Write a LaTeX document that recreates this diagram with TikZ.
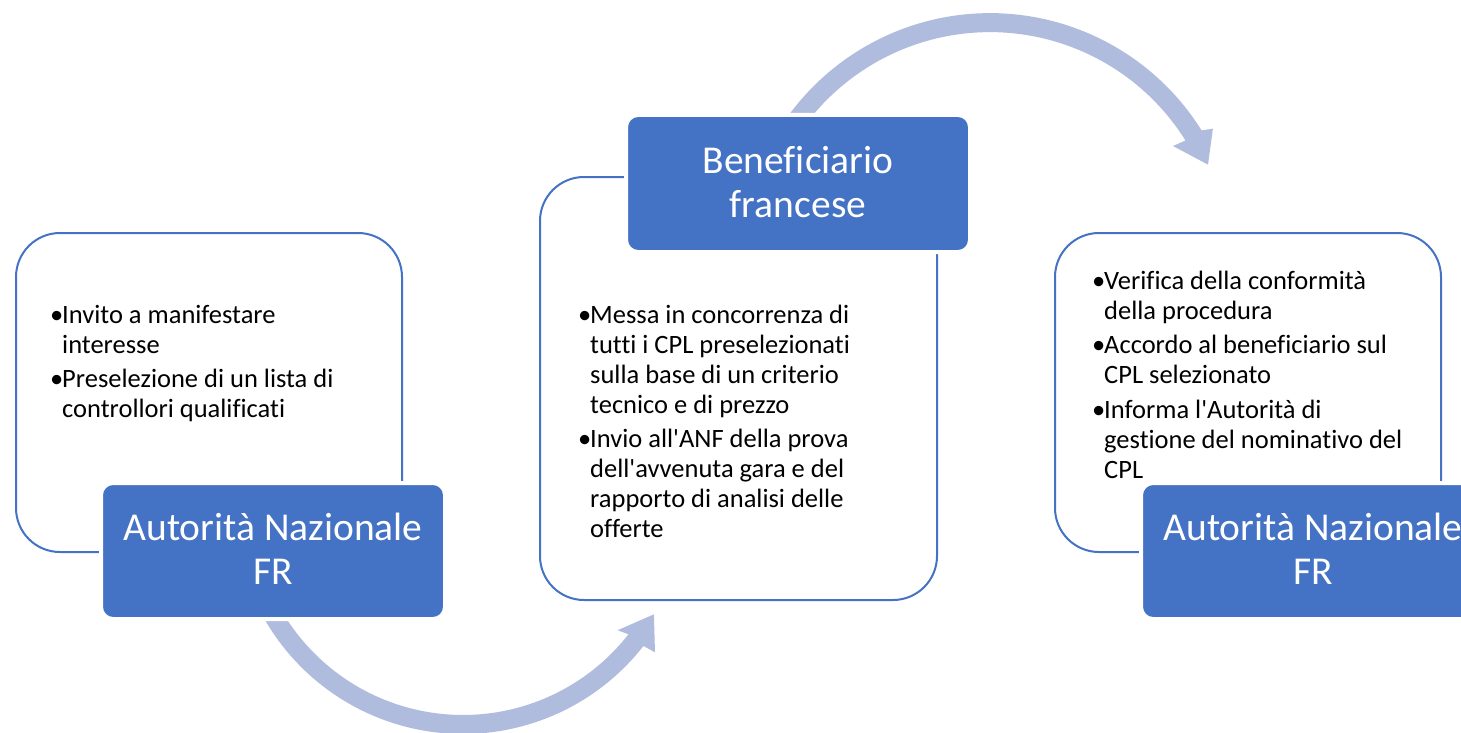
\documentclass[tikz,border=0pt]{standalone}
\usepackage{fontspec}
\setmainfont{Carlito}[Ligatures={TeXOff,CommonOff}]
\definecolor{accblue}{RGB}{68,114,196}
\definecolor{arrowblue}{RGB}{176,188,222}
\newcommand\bpt[1]{\par\hangindent=12pt\hangafter=1\noindent\makebox[12pt][l]{•}#1}
\begin{document}
\begin{tikzpicture}[x=1pt,y=-1pt,
  outlinebox/.style={draw=accblue,line width=2pt,fill=white,rounded corners=44pt,inner sep=0pt},
  bluebox/.style={fill=accblue,draw=white,line width=4pt,rounded corners=12pt,inner sep=0pt,minimum width=344pt},
  titletext/.style={anchor=base,inner sep=0pt,text=white,font=\fontsize{39.5}{44.5}\selectfont},
  bullettext/.style={anchor=base west,inner sep=0pt,font=\fontsize{26.5}{30}\selectfont},
  arrowfill/.style={fill=arrowblue,draw=none}]
\path[use as bounding box,clip] (0,0) rectangle (1461,733);
\fill[white] (0,0) rectangle (1461,733);
% outline boxes
\node[outlinebox,minimum width=386pt,minimum height=319pt] (o1) at (209,392.5) {};
\node[outlinebox,minimum width=397pt,minimum height=423pt] (o2) at (738.5,388.5) {};
\node[outlinebox,minimum width=386pt,minimum height=319pt] (o3) at (1248,392.5) {};
% arrows
\coordinate (c1) at (463,505);
\coordinate (c2) at (990,262.6);
\fill[arrowfill] plot[domain=160:38,samples=80] ({463+229*cos(\x)},{505+229*sin(\x)})
  -- ({463+242*cos(37.5)},{505+242*sin(37.5)})
  -- ({463+220*cos(29.8)},{505+220*sin(29.8)})
  -- ({463+199*cos(39)},{505+199*sin(39)})
  -- plot[domain=38:160,samples=80] ({463+210*cos(\x)},{505+210*sin(\x)}) -- cycle;
\fill[arrowfill] plot[domain=205:328,samples=80] ({990+249.5*cos(\x)},{262.6+249.5*sin(\x)})
  -- ({990+260*cos(329)},{262.6+260*sin(329)})
  -- ({990+239*cos(335.8)},{262.6+239*sin(335.8)})
  -- ({990+217*cos(327.5)},{262.6+217*sin(327.5)})
  -- plot[domain=328:205,samples=80] ({990+230.5*cos(\x)},{262.6+230.5*sin(\x)}) -- cycle;
% blue boxes
\node[bluebox,minimum height=136pt] (b1) at (273,551) {};
\node[bluebox,minimum height=137pt] (b2) at (798,183.5) {};
\node[bluebox,minimum height=136pt] (b3) at (1313,551) {};
\node[titletext] (t1) at (273,540) {\parbox[t]{400pt}{\centering Autorità Nazionale\\FR}};
\node[titletext] (t2) at (798,173) {\parbox[t]{400pt}{\centering Beneficiario\\francese}};
\node[titletext] (t3) at (1313,540) {\parbox[t]{400pt}{\centering Autorità Nazionale\\FR}};
% bullet texts
\node[bullettext] (l1) at (50,323) {\parbox[t]{400pt}{%
  \bpt{Invito a manifestare\newline interesse}\par\vspace{4.5pt}
  \bpt{Preselezione di un lista di\newline controllori qualificati}}};
\node[bullettext] (l2) at (578,323) {\parbox[t]{400pt}{%
  \bpt{Messa in concorrenza di\newline tutti i CPL preselezionati\newline sulla base di un criterio\newline tecnico e di prezzo}\par\vspace{4.5pt}
  \bpt{Invio all'ANF della prova\newline dell'avvenuta gara e del\newline rapporto di analisi delle\newline offerte}}};
\node[bullettext] (l3) at (1092,289) {\parbox[t]{400pt}{%
  \bpt{Verifica della conformità\newline della procedura}\par\vspace{4.5pt}
  \bpt{Accordo al beneficiario sul\newline CPL selezionato}\par\vspace{4.5pt}
  \bpt{Informa l'Autorità di\newline gestione del nominativo del\newline CPL}}};
\end{tikzpicture}
\end{document}
